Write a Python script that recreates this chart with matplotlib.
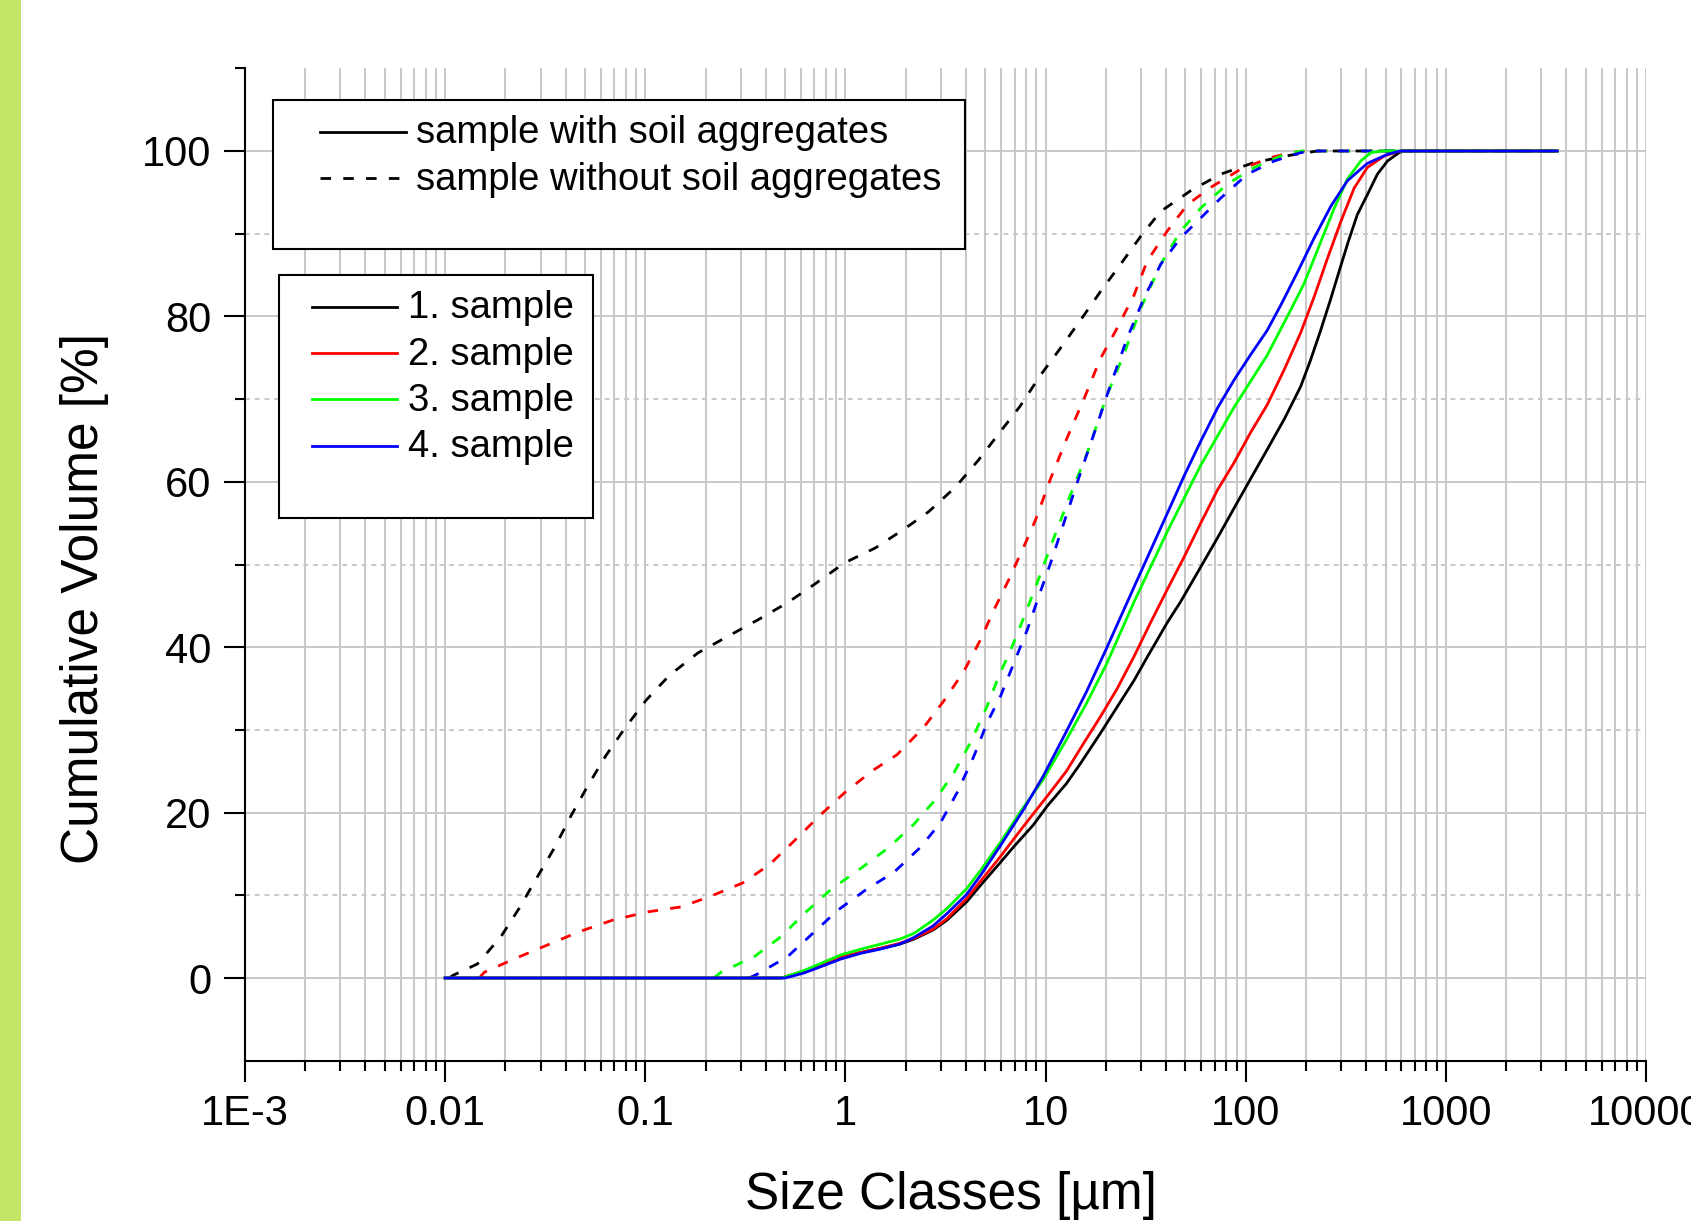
import numpy as np
import matplotlib
matplotlib.use('Agg')
import matplotlib.pyplot as plt
from matplotlib.lines import Line2D
from matplotlib.patches import Rectangle
from matplotlib.legend_handler import HandlerLine2D
from matplotlib.ticker import FixedLocator, FuncFormatter, LogLocator, NullFormatter

plt.rcParams['font.family'] = ['Liberation Sans', 'DejaVu Sans']

# ---- data (size in um, cumulative volume in %) ----
# samples without soil aggregates (dashed)
x1_dash = [0.0105, 0.0109, 0.0145, 0.019, 0.0234, 0.029, 0.0351, 0.0425, 0.0515, 0.0636, 0.0785,
           0.101, 0.132, 0.183, 0.258, 0.365, 0.515, 0.70, 0.99, 1.41, 1.97, 2.61, 3.56, 4.61,
           5.96, 7.44, 9.44, 11.9, 15.0, 18.8, 23.7, 29.9, 37.6, 53.1, 75, 110, 168, 228, 3600]
y1_dash = [0, 0.3, 1.7, 5.0, 8.4, 12.3, 15.7, 19.6, 23.2, 26.9, 30.1,
           33.6, 36.6, 39.3, 41.3, 43.3, 45.4, 47.6, 50.2, 52.0, 54.3, 56.4, 59.4, 62.6,
           66.1, 69.1, 72.9, 76.2, 79.6, 83.0, 86.3, 89.7, 92.7, 95.2, 97.2, 98.6, 99.5, 100, 100]

x2_dash = [0.0148, 0.0157, 0.0226, 0.0325, 0.0468, 0.0687, 0.103, 0.151, 0.213, 0.307, 0.417,
           0.556, 0.741, 0.99, 1.37, 1.81, 2.46, 3.10, 3.91, 4.73, 5.52, 6.56, 7.8, 8.91, 10.6,
           12.8, 15.6, 18.8, 22.8, 27.7, 32.2, 40.5, 51.1, 66.8, 94.4, 133, 168, 200, 3600]
y2_dash = [0, 0.7, 2.4, 4.0, 5.6, 7.0, 8.0, 8.6, 9.9, 11.5, 13.7,
           16.6, 19.6, 22.4, 25.1, 27.0, 30.3, 33.5, 37.1, 40.9, 44.5, 48.2, 52.2, 55.4, 60.4,
           65.3, 70.1, 74.9, 78.6, 82.6, 86.7, 90.3, 93.5, 95.6, 97.8, 99.2, 99.8, 100, 100]

x3_dash = [0.22, 0.239, 0.351, 0.477, 0.623, 0.847, 1.20, 1.63, 2.2, 2.82, 3.48, 4.22, 5.11,
           5.84, 6.81, 7.94, 9.08, 10.6, 13.3, 16.2, 20.3, 24.6, 29.9, 37.6, 47.3, 59.6, 81,
           110, 150, 188, 3600]
y3_dash = [0, 0.7, 2.6, 5.0, 7.8, 10.7, 13.3, 15.7, 18.6, 21.6, 24.8, 28.5, 32.9,
           36.5, 40.1, 44.1, 47.8, 52.2, 58.4, 63.6, 70.5, 75.4, 81.0, 86.3, 90.3, 93.1, 96.0,
           98.0, 99.4, 100, 100]

x4_dash = [0.33, 0.365, 0.515, 0.687, 0.916, 1.27, 1.75, 2.37, 2.99, 3.61, 4.38, 5.11, 5.96,
           6.95, 8.1, 9.26, 10.6, 12.1, 15.0, 18.1, 21.1, 25.6, 31.0, 37.6, 47.3, 59.6, 75,
           102, 139, 188, 230, 3600]
y4_dash = [0, 0.5, 2.6, 5.4, 8.2, 10.7, 12.8, 15.8, 18.8, 22.4, 26.8, 30.9, 34.1,
           38.1, 42.1, 46.2, 50.2, 54.4, 61.2, 66.9, 71.7, 77.4, 82.2, 86.3, 89.5, 91.9, 94.3,
           97.2, 98.8, 99.8, 100, 100]

# samples with soil aggregates (solid)
x1_solid = [0.01, 0.48, 0.62, 0.76, 0.95, 1.2, 1.5, 1.87, 2.2, 2.74, 3.22, 4.03, 4.73, 5.91,
            6.95, 8.68, 10.2, 12.7, 15.0, 18.8, 22.0, 27.7, 32.2, 40.6, 47.3, 59.6, 72.2, 87.4,
            106, 128, 156, 188, 210, 236, 265, 295, 325, 361, 405, 455, 511, 584, 610, 3600]
y1_solid = [0, 0, 0.8, 1.6, 2.5, 3.1, 3.6, 4.1, 4.7, 5.8, 7.0, 9.2, 11.2, 13.9,
            15.9, 18.5, 20.8, 23.5, 26.0, 29.6, 32.2, 36.0, 38.8, 43.0, 45.5, 49.7, 53.2, 56.8,
            60.4, 63.9, 67.6, 71.5, 74.6, 78.2, 82.0, 85.7, 89.0, 92.3, 94.7, 97.2, 98.8, 99.8, 100, 100]

x2_solid = [0.01, 0.48, 0.62, 0.76, 0.95, 1.2, 1.5, 1.87, 2.2, 2.74, 3.22, 4.03, 4.73, 5.91,
            7.73, 10.2, 12.7, 15.6, 18.8, 22.8, 27.7, 33.5, 40.6, 49.2, 59.6, 72.2, 87.4, 106,
            128, 156, 188, 220, 256, 299, 348, 405, 492, 573, 600, 3600]
y2_solid = [0, 0, 0.8, 1.6, 2.5, 3.1, 3.6, 4.2, 4.8, 5.9, 7.2, 9.6, 11.7, 14.6,
            18.3, 22.0, 25.0, 28.5, 31.6, 35.0, 38.9, 43.0, 47.0, 50.9, 55.0, 59.0, 62.3, 66.0,
            69.3, 73.6, 78.0, 82.4, 87.0, 91.5, 95.5, 98.0, 99.4, 99.9, 100, 100]

x3_solid = [0.01, 0.48, 0.62, 0.76, 0.95, 1.2, 1.5, 1.87, 2.2, 2.74, 3.22, 4.03, 4.73, 5.91,
            7.73, 9.73, 12.7, 16.0, 20.2, 27.7, 40.6, 59.6, 87.4, 128, 168, 196, 237, 276, 322,
            376, 422, 480, 3600]
y3_solid = [0, 0, 0.9, 1.8, 2.8, 3.5, 4.1, 4.7, 5.4, 7.0, 8.4, 10.8, 13.0, 16.3,
            20.6, 24.0, 28.8, 33.2, 38.0, 45.5, 54.0, 62.0, 69.0, 75.3, 80.8, 84.0, 89.0, 93.0, 96.6,
            98.8, 99.8, 100, 100]

x4_solid = [0.01, 0.50, 0.62, 0.76, 0.95, 1.2, 1.5, 1.87, 2.2, 2.74, 3.22, 4.03, 4.73, 5.91,
            7.73, 9.73, 12.7, 16.0, 20.2, 27.7, 40.6, 49.2, 59.6, 72.2, 87.4, 106, 128, 150, 181,
            220, 266, 322, 405, 511, 590, 3600]
y4_solid = [0, 0, 0.6, 1.4, 2.3, 3.0, 3.5, 4.1, 4.9, 6.3, 7.8, 10.1, 12.4, 15.9,
            20.3, 24.4, 29.8, 34.6, 39.9, 47.3, 56.2, 60.7, 64.9, 68.9, 72.3, 75.4, 78.3, 81.4, 85.3,
            89.5, 93.3, 96.4, 98.5, 99.6, 100, 100]

sample_names = ['1. sample', '2. sample', '3. sample', '4. sample']
sample_colors = ['#000000', '#ff0000', '#00ff00', '#0000ff']
type_names = ['sample with soil aggregates', 'sample without soil aggregates']
x_tick_labels = ['1E-3', '0.01', '0.1', '1', '10', '100', '1000', '10000']

dash_x = [x1_dash, x2_dash, x3_dash, x4_dash]
dash_y = [y1_dash, y2_dash, y3_dash, y4_dash]
solid_x = [x1_solid, x2_solid, x3_solid, x4_solid]
solid_y = [y1_solid, y2_solid, y3_solid, y4_solid]

W, H = 1691, 1221
fig = plt.figure(figsize=(W / 100, H / 100), dpi=100)
fig.patches.append(Rectangle((0, 0), 21 / W, 1, transform=fig.transFigure,
                             facecolor='#c4e664', edgecolor='none', zorder=0))

ax = fig.add_axes([245 / W, 1 - 1060.7 / H, 1401 / W, 992.4 / H])
ax.set_xscale('log')
ax.set_xlim(1e-3, 1e4)
ax.set_ylim(-10, 110)

lw = 2.0
dash_pat = (3.8, 4.4)
for xs, ys, c in zip(dash_x, dash_y, sample_colors):
    ax.plot(xs, ys, color=c, lw=lw, dashes=dash_pat)
for xs, ys, c in zip(solid_x, solid_y, sample_colors):
    ax.plot(xs, ys, color=c, lw=lw)

# axes / ticks
ax.xaxis.set_major_locator(LogLocator(base=10, numticks=20))
ax.xaxis.set_minor_locator(LogLocator(base=10, subs=np.arange(2, 10), numticks=100))
ax.xaxis.set_minor_formatter(NullFormatter())
ax.xaxis.set_major_formatter(FuncFormatter(
    lambda v, p: x_tick_labels[int(round(np.log10(v))) + 3] if 1e-3 <= v <= 1e4 else ''))
ax.yaxis.set_major_locator(FixedLocator([0, 20, 40, 60, 80, 100]))
ax.yaxis.set_minor_locator(FixedLocator([10, 30, 50, 70, 90, 110]))

for s in ['top', 'right']:
    ax.spines[s].set_visible(False)
for s in ['left', 'bottom']:
    ax.spines[s].set_linewidth(1.5)

ax.tick_params(which='major', length=15, width=1.5, direction='out', labelsize=30, pad=9)
ax.tick_params(which='minor', length=7.5, width=1.5, direction='out')

gcol = '#c8c8c8'
ax.grid(which='both', axis='x', color=gcol, lw=1.4)
ax.grid(which='major', axis='y', color=gcol, lw=1.4)
ax.grid(which='minor', axis='y', color=gcol, lw=1.4, linestyle=(0, (2.5, 2.5)))
ax.set_axisbelow(True)

ax.set_xlabel('Size Classes [µm]', fontsize=37)
ax.set_ylabel('Cumulative Volume [%]', fontsize=37)
ax.xaxis.set_label_coords(0.504, -0.111)
ax.yaxis.set_label_coords(-0.097, 0.466)

# legends (the blank last row gives the empty space at the bottom of each box)
fs = 27.5
h_type = [Line2D([], [], color='k', lw=lw), Line2D([], [], color='k', lw=lw, dashes=dash_pat),
          Line2D([], [], color='none')]
leg1 = fig.legend(h_type, type_names + [' '], loc='upper left',
                  bbox_to_anchor=(273 / W, 1 - 100 / H - 0.01, (965 - 273) / W, 0.01),
                  mode='expand', fontsize=fs, frameon=True, fancybox=False, edgecolor='black',
                  framealpha=1, borderpad=0.4, labelspacing=0.27, handlelength=2.23 + 0.84,
                  handleheight=0.4, handletextpad=0.28, borderaxespad=0,
                  handler_map={Line2D: HandlerLine2D(xpad=0.84)})
leg1.get_frame().set_linewidth(1.5)
leg1.get_texts()[-1].set_fontsize(11.3)

h_samp = [Line2D([], [], color=c, lw=lw) for c in sample_colors] + [Line2D([], [], color='none')]
leg2 = fig.legend(h_samp, sample_names + [' '], loc='upper left',
                  bbox_to_anchor=(279 / W, 1 - 275 / H - 0.01, (593 - 279) / W, 0.01),
                  mode='expand', fontsize=fs, frameon=True, fancybox=False, edgecolor='black',
                  framealpha=1, borderpad=0.4, labelspacing=0.27, handlelength=2.23 + 0.47,
                  handleheight=0.4, handletextpad=0.28, borderaxespad=0,
                  handler_map={Line2D: HandlerLine2D(xpad=0.47)})
leg2.get_frame().set_linewidth(1.5)
leg2.get_texts()[-1].set_fontsize(13.3)

fig.canvas.draw()
for t in ax.yaxis.get_minor_ticks():
    if abs(t.get_loc() - 110) < 1:
        t.gridline.set_visible(False)

fig.savefig('out.png', dpi=100)
